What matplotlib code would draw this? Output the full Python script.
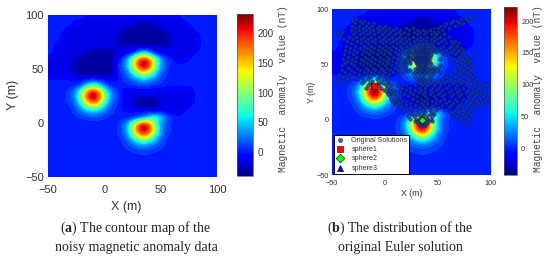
import numpy as np
import matplotlib
matplotlib.use("Agg")
import matplotlib.pyplot as plt
from matplotlib.cm import ScalarMappable
from matplotlib.colors import Normalize

x_grid = list(range(-50, 105, 5))
y_grid = list(range(100, -55, -5))
field_rows = [
 [2]*31,
 [2]*7+[-14]*17+[2]*7,
 [2]*5+[-14]*11+[-30]*3+[-14]*6+[2]*6,
 [2]*4+[-14]*10+[-30]*7+[-14]*5+[2]*5,
 [2]*3+[-14]*10+[-30]*9+[-14]*5+[2]*4,
 [2]*3+[-14]*10+[-30]*9+[-14]*5+[2]*4,
 [2]*2+[-14]*25+[2]*4,
 [2,2]+[-14]*6+[-30]*4+[-14]*3+[-5,35,65,35,-3]+[-14]*6+[2]*5,
 [2]+[-14]*5+[-30]*6+[-14,0,35,90,165,200,165,90,35,14,2,-14,-14]+[2]*6,
 [-14]*5+[-30]*7+[-5,15,42,115,200,230,200,115,42,15,5]+[2]*8,
 [-14]*5+[-30]*7+[-3,14,35,90,165,200,165,90,35,14,4]+[2]*8,
 [-14]*6+[-30]*6+[-5,7,22,50,90,115,90,50,22,7,3]+[2]*8,
 [2]*5+[-5,0,5,8,5,0,-5,-3,5,14,22,35,42,35,22,14,5,3]+[2]*8,
 [2]*4+[3,5,22,55,85,55,22,5,3,3,6,11,14,15,14,11,6,3]+[2]*9,
 [2,2,2,5,14,35,90,165,200,165,90,35,14,2,-8,-8,-8,-8,-8,-8,-8,-8,-8,-8,-8,-8]+[2]*5,
 [2,2,3,6,15,42,115,200,230,200,115,42,15,2]+[-14]*12+[2]*5,
 [2,2,3,6,14,35,90,165,200,165,90,35,14,2,-14,-14,-30,-30,-30,-30,-14,-14,-14,-14,-14,-14]+[2]*5,
 [2,2,2,4,7,22,50,90,115,90,50,22,7,2,-14,-14,-25,-25,-25,-25,-14,-14,-14,-14,-14]+[2]*6,
 [2,2,2,3,5,14,22,35,42,35,22,14,5,2,2,2,2,3,2,2,2,-8,-8,-8]+[2]*7,
 [2,2,2,2,3,6,11,14,15,14,11,6,3,2,2,3,10,28,60,85,60,28,10,3]+[2]*7,
 [2]*8+[4]+[2]*3+[3,14,35,90,165,200,165,90,35,14,5]+[2]*8,
 [2]*11+[2,6,15,42,115,200,230,200,115,42,15,6,2]+[2]*7,
 [2]*12+[5,14,35,90,165,200,165,90,35,14,5]+[2]*8,
 [2]*12+[4,7,22,50,90,115,90,50,22,7,4]+[2]*8,
 [2]*12+[3,6,14,22,35,42,35,22,14,6,3]+[2]*8,
 [2]*13+[5,7,11,14,15,14,11,7,5,2]+[2]*8,
 [2]*14+[4,5,6,7,6,5,4]+[2]*10,
 [2]*15+[3,4,4,4,3]+[2]*11,
 [2]*31,
 [2]*31,
 [2]*31,
]

solution_rows = {
 93:[80,84], 91:[-31,-27,72,76], 89:[-30,-24,-20,64,68,78],
 87:[-28,-22,-16,-10,58,62,70,74], 85:[-31,-25,-18,-12,-6,0,52,56,66],
 83:[-28,-21,-15,-8,-2,4,10,20,26,46,50,60],
 81:[-32,-25,-18,-11,-5,1,8,14,23,30,36,42,54],
 79:[-44,-41,-28,-21,-14,-7,-1,5,12,18,27,33,39,46,50],
 77:[-44,-30,-24,-17,-10,-3,3,9,15,22,30,37,43,48,56],
 75:[-34,-27,-20,-13,-6,0,7,13,19,26,33,40,46,52,60],
 73:[-40,-30,-23,-16,-9,-2,4,10,16,23,30,36,43,49,56],
 71:[-36,-26,-19,-12,-5,1,8,14,20,27,33,39,46,53,62,66],
 69:[-32,-23,-16,-9,-2,5,11,17,24,31,36,42,50,58,64,70],
 68:[24,28,32,36,40,44],
 67:[-37,-28,-20,-13,-6,1,8,14,20,28,33,38,46,55,62,68],
 66:[22,27,33,37,41,45],
 65:[-33,-24,-17,-10,-3,4,10,16,24,31,35,38,42,52,60,66,72],
 64:[23,27,32,36,39,43,47],
 63:[-38,-29,-21,-14,-7,0,6,13,20,29,34,37,41,50,58,64,70,74],
 62:[22,26,30,33,36,39,43,46],
 61:[-34,-26,-18,-11,-4,3,9,16,24,31,34,37,41,48,54,62,68,74],
 60:[22,25,29,33,36,39,43],
 59:[-39,-30,-22,-15,-8,-1,5,12,19,27,32,35,38,41,56,66,72,84],
 58:[21,24,29,31,34,37,40,43],
 57:[-35,-27,-19,-12,-5,2,8,15,22,26,30,33,36,38,41,60,70,76],
 56:[21,24,29,31,33,36,39,42],
 55:[-40,-31,-23,-16,-9,-2,4,11,18,26,28,32,34,37,38,40,52,64,72,78],
 54:[20,24,28,31,35,38,41],
 53:[-36,-28,-20,-13,-6,1,7,14,30,33,36,39,68,75,80],
 52:[19,22,29,32,35,38,42],
 51:[-38,-32,-24,-17,-10,-3,3,10,17,24,31,33,37,40,72,78],
 50:[18,30,33,36,39,43],
 49:[-41,-29,-21,-14,-7,0,6,13,20,31,35,40,52,68,75,82],
 48:[19,32,36,39,42,46],
 47:[-35,-26,-18,-11,-4,2,9,16,30,34,38,50,71,78],
 46:[20,28,33,37,41,45],
 45:[-41,-32,-24,-16,-9,-2,5,12,24,32,36,42,48,66,74,81],
 44:[22,30,35,39,43],
 43:[-38,-29,-20,-13,-6,0,8,18,28,34,38,46,52,70,77],
 42:[26,32,37,41],
 41:[-43,-34,-25,-17,-10,-3,4,14,30,35,40,44,62,72,80],
 39:[-40,-30,-22,-14,-6,2,28,33,37,42,58,66,74,82],
 37:[-44,-36,-26,-16,-8,-1,32,36,41,54,62,70,78,86],
 35:[-43,-20,-12,-4,3,30,34,38,44,50,58,66,74,84],
 33:[-22,-14,-7,-2,3,33,37,42,48,56,64,72,80,90],
 31:[-16,-6,1,6,12,20,28,35,40,46,52,60,68,76,84,92,95],
 29:[-18,-4,2,5,16,24,32,38,44,50,58,66,74,82,88],
 27:[-1,4,8,20,28,34,42,48,54,62,70,78,86,94],
 25:[2,6,10,14,24,32,38,44,52,60,68,76,82,90],
 23:[3,7,18,26,36,42,50,56,64,72,80,87,94],
 21:[5,9,14,22,30,38,46,54,62,70,78,84,92],
 19:[6,10,26,34,40,48,56,66,74,82,90,95],
 17:[8,12,16,20,30,37,44,52,60,68,76,86,94],
 15:[9,13,24,34,40,48,58,64,72,80,88],
 13:[10,20,28,36,44,54,62,70,78,84,92],
 11:[14,24,32,38,42,50,60,68,76,86],
 9:[18,28,36,42,48,58,66,74,80],
 7:[24,32,38,44,62,70,78],
 5:[25,30,36,42,46,66,74,80],
 3:[22,27,33,36,40,44,68,76],
 1:[24,29,33,37,40,43,72,78],
 -1:[28,32,41,44,74],
 -3:[31,36,40],
 -5:[34,38,78],
}
sphere1 = (-10, 30)
sphere2 = (35, 0)
sphere3 = (33, 55)
ticks_xy = [-50, 0, 50, 100]
cbar_ticks = [0, 50, 100, 150, 200]
cbar_a = (-40, 232)
cbar_b = (-42, 222)
caption_a = ["(" + r"$\mathbf{a}$" + ") The contour map of the", "noisy magnetic anomaly data"]
caption_b = ["(" + r"$\mathbf{b}$" + ") The distribution of the", "original Euler solution"]
cbar_label = "Magnetic  anomaly  value (nT)"

plt.rcParams["font.family"] = ["Liberation Sans", "DejaVu Sans"]
plt.rcParams["mathtext.fontset"] = "custom"
plt.rcParams["mathtext.bf"] = "Liberation Serif:bold"
W, H = 550, 261
fig = plt.figure(figsize=(W/100, H/100), dpi=100)
def axpx(x0, y0, x1, y1):
    return fig.add_axes([x0/W, 1-y1/H, (x1-x0)/W, (y1-y0)/H])

field = np.array(field_rows, dtype=float)
TXT = "#333333"

def panel(box, cbox, lim, nbands, tick_fs, lab_fs, lab_px, cb_fs, cb_lab_x, padx, pady):
    ax = axpx(*box)
    norm = Normalize(*lim)
    ax.imshow(field, extent=(-52.5, 102.5, -52.5, 102.5), origin="upper", aspect="auto",
              cmap=plt.get_cmap("jet", nbands), norm=norm,
              interpolation="bicubic", interpolation_stage="data")
    ax.set_xlim(-50, 100); ax.set_ylim(-50, 100)
    ax.set_xticks(ticks_xy); ax.set_yticks(ticks_xy)
    ax.tick_params(axis="x", length=0, labelsize=tick_fs, labelcolor=TXT, pad=padx)
    ax.tick_params(axis="y", length=0, labelsize=tick_fs, labelcolor=TXT, pad=pady)
    for s in ax.spines.values():
        s.set_visible(False)
    fig.text(lab_px[0]/W, 1-lab_px[1]/H, "X (m)", fontsize=lab_fs, color=TXT, ha="center", va="center")
    fig.text(lab_px[2]/W, 1-lab_px[3]/H, "Y (m)", fontsize=lab_fs, color=TXT, ha="center", va="center", rotation=90)
    cax = axpx(*cbox)
    cb = fig.colorbar(ScalarMappable(norm=norm, cmap="jet"), cax=cax, ticks=cbar_ticks)
    cb.ax.tick_params(length=0, labelsize=cb_fs, labelcolor=TXT, pad=3)
    cb.outline.set_edgecolor("#555555"); cb.outline.set_linewidth(0.5)
    fig.text(cb_lab_x/W, 1-89/H, cbar_label, fontsize=6.9, family="Liberation Mono", color="#444444",
             rotation=90, ha="center", va="center")
    return ax

axa = panel((48, 15, 217, 177), (237, 14, 253, 176), cbar_a, 34, 8, 9, (126, 207, 13, 95), 7, 283, 6, 3)
axb = panel((332, 9, 491, 175), (504, 7, 517, 175), cbar_b, 33, 5.3, 6.3, (412, 194, 311, 92), 5.3, 538, 3.5, 2.5)

sx = [x for y, xs in solution_rows.items() for x in xs]
sy = [y for y, xs in solution_rows.items() for x in xs]
orig = axb.scatter(sx, sy, s=6.5, c="#16389a", edgecolors="#081a60", linewidths=0.4, alpha=0.8, zorder=3,
                   label="Original Solutions")
h1 = axb.scatter(*sphere1, s=13, marker="s", c="#ff0000", edgecolors="k", linewidths=0.4, zorder=4, label="sphere1")
h2 = axb.scatter(*sphere2, s=14, marker="D", c="#00ff00", edgecolors="k", linewidths=0.4, zorder=4, label="sphere2")
h3 = axb.scatter(*sphere3, s=14, marker="^", c="#0000ff", edgecolors="k", linewidths=0.4, zorder=2.5, label="sphere3")
leg = fig.legend(handles=[orig, h1, h2, h3], loc="lower left",
                 bbox_to_anchor=(334/W, 1-173.5/H), bbox_transform=fig.transFigure,
                 fontsize=5.1, frameon=True, fancybox=False, framealpha=1, edgecolor="k",
                 borderpad=0.25, labelspacing=0.34, handlelength=1.3, handletextpad=0.9,
                 borderaxespad=0, scatterpoints=1, markerscale=1.2)
leg.get_frame().set_linewidth(0.7)
leg.set_zorder(10)
for t in leg.get_texts():
    t.set_color(TXT)
for ln, y in zip(caption_a, (228, 247)):
    fig.text(136/W, 1-y/H, ln, fontsize=10, family="Liberation Serif", color="#222222", ha="center", va="center")
for ln, y in zip(caption_b, (228, 247)):
    fig.text(400/W, 1-y/H, ln, fontsize=10, family="Liberation Serif", color="#222222", ha="center", va="center")
fig.savefig("out.png", dpi=100)
